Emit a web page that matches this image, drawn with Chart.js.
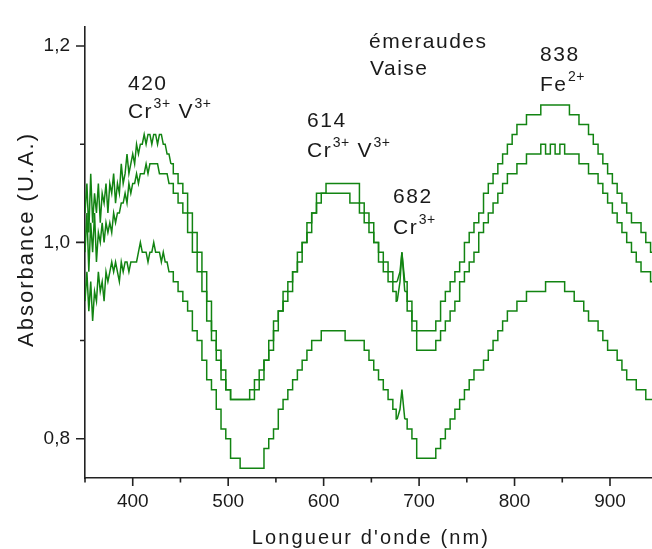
<!DOCTYPE html>
<html>
<head>
<meta charset="utf-8">
<script src="https://cdn.jsdelivr.net/npm/chart.js@4/dist/chart.umd.min.js"></script>
<style>
html,body{margin:0;padding:0;background:#fff;overflow:hidden}
#wrap{width:652px;height:549px;position:relative}
</style>
</head>
<body>
<div id="wrap"><canvas id="c" width="652" height="549"></canvas></div>
<script>
// ---------- DATA ----------
const wavelengths = [
  350,352,354,356,358,360,362,364,366,368,
  370,372,374,376,378,380,382,384,386,388,
  390,392,394,396,398,400,402,404,406,408,
  410,412,414,416,418,420,422,424,426,428,
  430,432,434,436,438,440,
  445,450,455,460,465,470,475,480,485,490,
  495,500,505,510,515,520,525,530,535,540,
  545,550,555,560,565,570,575,580,585,590,
  595,600,605,610,615,620,625,630,635,640,
  645,650,655,660,665,670,675,677,680,682,
  685,690,695,700,705,710,715,720,725,730,
  735,740,745,750,755,760,765,770,775,780,
  785,790,795,800,805,810,815,820,825,830,
  835,840,845,850,855,860,865,870,875,880,
  885,890,895,900,905,910,915,920,925,930,
  935,940,945
];

const seriesA = [
  1.03,1.06,1.01,1.07,1.02,1.05,1.03,1.06,1.02,1.05,
  1.04,1.06,1.03,1.06,1.05,1.07,1.04,1.06,1.05,1.08,
  1.06,1.07,1.09,1.07,1.08,1.09,1.08,1.10,1.09,1.10,
  1.10,1.11,1.10,1.11,1.11,1.10,1.11,1.11,1.10,1.11,
  1.11,1.10,1.10,1.09,1.09,1.08,
  1.07,1.06,1.05,1.03,1.01,0.99,0.97,0.94,0.91,0.89,
  0.87,0.85,0.84,0.84,0.84,0.84,0.84,0.85,0.86,0.88,
  0.89,0.91,0.93,0.94,0.95,0.97,0.98,1.00,1.01,1.03,
  1.05,1.05,1.06,1.06,1.06,1.06,1.06,1.06,1.06,1.04,
  1.03,1.02,1.00,0.99,0.98,0.97,0.95,0.94,0.96,0.99,
  0.96,0.94,0.92,0.91,0.91,0.91,0.91,0.92,0.94,0.95,
  0.96,0.97,0.98,1.00,1.01,1.02,1.03,1.05,1.06,1.07,
  1.08,1.09,1.10,1.11,1.12,1.12,1.13,1.13,1.13,1.14,
  1.14,1.14,1.14,1.14,1.14,1.13,1.13,1.12,1.12,1.11,
  1.10,1.09,1.08,1.07,1.06,1.05,1.04,1.03,1.02,1.02,
  1.01,1.00,0.99
];

const seriesB = [
  0.99,1.03,0.97,1.02,0.99,1.03,0.98,1.01,1.00,1.02,
  1.00,1.02,1.01,1.02,1.01,1.03,1.02,1.03,1.03,1.04,
  1.04,1.05,1.04,1.06,1.05,1.06,1.06,1.07,1.06,1.07,
  1.07,1.07,1.08,1.07,1.08,1.08,1.08,1.08,1.08,1.07,
  1.07,1.07,1.07,1.07,1.06,1.06,
  1.05,1.04,1.03,1.01,0.99,0.97,0.95,0.92,0.90,0.88,
  0.86,0.85,0.84,0.84,0.84,0.84,0.85,0.86,0.87,0.88,
  0.90,0.92,0.93,0.95,0.96,0.97,0.99,1.00,1.02,1.03,
  1.04,1.05,1.05,1.05,1.05,1.05,1.05,1.04,1.04,1.03,
  1.02,1.01,1.00,0.98,0.97,0.96,0.96,0.96,0.97,0.99,
  0.95,0.93,0.91,0.89,0.89,0.89,0.89,0.90,0.91,0.92,
  0.93,0.94,0.96,0.97,0.98,0.99,1.01,1.02,1.03,1.04,
  1.05,1.06,1.07,1.07,1.08,1.08,1.09,1.09,1.09,1.10,
  1.09,1.10,1.09,1.10,1.09,1.09,1.09,1.08,1.08,1.07,
  1.07,1.06,1.05,1.04,1.03,1.02,1.01,1.00,0.99,0.98,
  0.97,0.97,0.96
];

const seriesC = [
  0.94,0.97,0.93,0.96,0.92,0.95,0.94,0.97,0.95,0.96,
  0.94,0.97,0.96,0.97,0.98,0.97,0.98,0.97,0.96,0.98,
  0.97,0.98,0.98,0.97,0.98,0.98,0.98,0.98,0.99,1.00,
  0.99,0.99,0.99,0.98,0.99,0.99,1.00,0.99,0.99,0.99,
  0.98,0.99,0.98,0.98,0.97,0.97,
  0.96,0.95,0.94,0.93,0.91,0.90,0.88,0.86,0.85,0.83,
  0.81,0.80,0.78,0.78,0.77,0.77,0.77,0.77,0.77,0.79,
  0.80,0.81,0.83,0.84,0.85,0.86,0.87,0.88,0.89,0.90,
  0.90,0.91,0.91,0.91,0.91,0.91,0.90,0.90,0.90,0.90,
  0.89,0.88,0.87,0.86,0.85,0.84,0.83,0.82,0.83,0.85,
  0.82,0.81,0.80,0.78,0.78,0.78,0.78,0.79,0.80,0.81,
  0.82,0.83,0.84,0.85,0.86,0.87,0.87,0.88,0.89,0.90,
  0.91,0.92,0.93,0.93,0.94,0.94,0.95,0.95,0.95,0.95,
  0.96,0.96,0.96,0.96,0.95,0.95,0.94,0.94,0.93,0.92,
  0.92,0.91,0.90,0.89,0.89,0.88,0.87,0.86,0.86,0.85,
  0.85,0.84,0.84
];

// wavelength ranges drawn as plain lines (noise and the 682 nm spike); the rest is drawn as steps
const linearRanges = [[350, 440], [677, 685]];

const xMajorTicks = [400, 500, 600, 700, 800, 900];
const xMinorTicks = [350, 450, 550, 650, 750, 850];
const yMajorTicks = [0.8, 1.0, 1.2];
const yMinorTicks = [0.9, 1.1];

const xTitle = "Longueur d'onde (nm)";
const yTitle = "Absorbance (U.A.)";

// annotation text: [text, isSuperscript] pieces, anchored at (wavelength, absorbance)
const annotations = [
  { x: 395.0, y: 1.1556, parts: [["420", false]] },
  { x: 395.0, y: 1.1268, parts: [["Cr", false], ["3+", true], [" V", false], ["3+", true]] },
  { x: 582.6, y: 1.1179, parts: [["614", false]] },
  { x: 582.6, y: 1.0872, parts: [["Cr", false], ["3+", true], [" V", false], ["3+", true]] },
  { x: 672.7, y: 1.0406, parts: [["682", false]] },
  { x: 672.7, y: 1.0088, parts: [["Cr", false], ["3+", true]] },
  { x: 647.5, y: 1.1982, parts: [["émeraudes", false]] },
  { x: 648.6, y: 1.1704, parts: [["Vaise", false]] },
  { x: 826.7, y: 1.1843, parts: [["838", false]] },
  { x: 826.7, y: 1.1546, parts: [["Fe", false], ["2+", true]] }
];

// ---------- STYLE ----------
const FONT = '"Liberation Sans", Arial, Helvetica, sans-serif';
const lineColor = 'rgb(18,132,18)';
const axisColor = '#222222';
const textColor = '#1a1a1a';

function buildDatasets(ys) {
  const bounds = new Set([wavelengths[0], wavelengths[wavelengths.length - 1]]);
  linearRanges.forEach(([a, b]) => { bounds.add(a); bounds.add(b); });
  const edges = [...bounds].sort((p, q) => p - q);
  const out = [];
  for (let k = 0; k < edges.length - 1; k++) {
    const a = edges[k], b = edges[k + 1];
    const isLinear = linearRanges.some(([p, q]) => a >= p && b <= q);
    const data = [];
    wavelengths.forEach((w, i) => { if (w >= a && w <= b) data.push({ x: w, y: ys[i] }); });
    if (data.length < 2) continue;
    out.push({
      data,
      borderColor: lineColor,
      borderWidth: 1.5,
      pointRadius: 0,
      fill: false,
      stepped: isLinear ? false : 'middle',
      tension: 0
    });
  }
  return out;
}

const datasets = [
  ...buildDatasets(seriesA),
  ...buildDatasets(seriesB),
  ...buildDatasets(seriesC)
];

const overlay = {
  id: 'overlay',
  afterDraw(chart) {
    const { ctx, chartArea } = chart;
    const xs = chart.scales.x, ys = chart.scales.y;
    ctx.save();
    ctx.strokeStyle = axisColor;
    ctx.lineWidth = 1.6;
    ctx.beginPath();
    xMajorTicks.forEach(v => {
      const p = xs.getPixelForValue(v);
      ctx.moveTo(p, chartArea.bottom); ctx.lineTo(p, chartArea.bottom + 8);
    });
    xMinorTicks.forEach(v => {
      const p = xs.getPixelForValue(v);
      ctx.moveTo(p, chartArea.bottom); ctx.lineTo(p, chartArea.bottom + 4.5);
    });
    yMajorTicks.forEach(v => {
      const p = ys.getPixelForValue(v);
      ctx.moveTo(chartArea.left, p); ctx.lineTo(chartArea.left - 9, p);
    });
    yMinorTicks.forEach(v => {
      const p = ys.getPixelForValue(v);
      ctx.moveTo(chartArea.left, p); ctx.lineTo(chartArea.left - 5, p);
    });
    ctx.stroke();

    // annotations
    ctx.fillStyle = textColor;
    ctx.textBaseline = 'alphabetic';
    ctx.textAlign = 'left';
    annotations.forEach(a => {
      let px = xs.getPixelForValue(a.x);
      const py = ys.getPixelForValue(a.y);
      a.parts.forEach(([t, sup]) => {
        if (sup) {
          ctx.font = '14px ' + FONT;
          ctx.letterSpacing = '0.5px';
          ctx.fillText(t, px + 0.5, py - 10);
        } else {
          ctx.font = '21px ' + FONT;
          ctx.letterSpacing = '1.5px';
          ctx.fillText(t, px, py);
        }
        px += ctx.measureText(t).width + (sup ? 1 : 0);
      });
    });

    // axis titles
    ctx.font = '20px ' + FONT;
    ctx.letterSpacing = '2.1px';
    ctx.textAlign = 'center';
    ctx.fillText(xTitle, xs.getPixelForValue(649.5), 544);

    ctx.save();
    ctx.translate(33, ys.getPixelForValue(1.003));
    ctx.rotate(-Math.PI / 2);
    ctx.font = '22px ' + FONT;
    ctx.letterSpacing = '2px';
    ctx.textAlign = 'center';
    ctx.fillText(yTitle, 0, 0);
    ctx.restore();

    ctx.restore();
  }
};

new Chart(document.getElementById('c'), {
  type: 'line',
  data: { datasets },
  options: {
    responsive: false,
    animation: false,
    devicePixelRatio: 1,
    layout: { padding: { top: 14, right: 0, left: 0, bottom: 0 } },
    plugins: { legend: { display: false }, tooltip: { enabled: false }, title: { display: false } },
    scales: {
      x: {
        type: 'linear',
        min: 350, max: 944,
        afterBuildTicks: s => { s.ticks = xMajorTicks.map(v => ({ value: v })); },
        afterFit: s => { s.height = 71; },
        grid: { display: false, drawTicks: false },
        border: { display: true, color: axisColor, width: 1.6 },
        ticks: {
          autoSkip: false, maxRotation: 0, padding: 12,
          color: textColor,
          font: { family: FONT, size: 19 },
          callback: v => String(v)
        }
      },
      y: {
        type: 'linear',
        min: 0.76, max: 1.22,
        afterBuildTicks: s => { s.ticks = yMajorTicks.map(v => ({ value: v })); },
        afterFit: s => { s.width = 85; },
        grid: { display: false, drawTicks: false },
        border: { display: true, color: axisColor, width: 1.6 },
        ticks: {
          autoSkip: false, padding: 15,
          color: textColor,
          font: { family: FONT, size: 19 },
          callback: v => v.toFixed(1).replace('.', ',')
        }
      }
    }
  },
  plugins: [overlay]
});
</script>
</body>
</html>
